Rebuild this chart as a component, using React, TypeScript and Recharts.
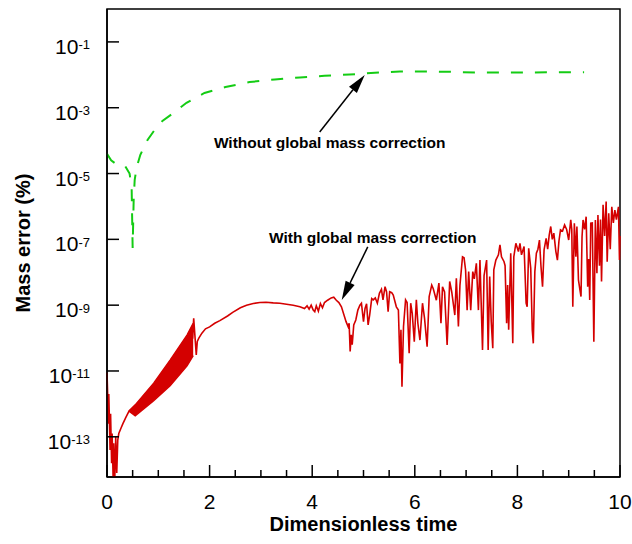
import { Area, ComposedChart, Line, ReferenceArea, ReferenceDot, ReferenceLine, XAxis, YAxis } from "recharts";

// values are [dimensionless time, log10(mass error %)]
const withoutCorrection: [number, number][] = [
  [0, -4.4], [0.08, -4.6], [0.15, -4.68], [0.34, -4.74], [0.44, -5.0], [0.48, -5.4],
  [0.5, -7.26], [0.52, -5.8], [0.54, -5.19], [0.58, -4.8], [0.65, -4.43], [0.79, -3.98],
  [0.93, -3.67], [1.08, -3.4], [1.32, -3.13], [1.55, -2.85], [1.9, -2.55], [2.31, -2.37],
  [2.78, -2.22], [3.27, -2.14], [3.76, -2.08], [4.24, -2.03], [4.73, -1.99], [5.22, -1.94],
  [5.71, -1.9], [6.2, -1.9], [6.7, -1.91], [7.2, -1.93], [7.7, -1.93], [8.2, -1.93],
  [8.7, -1.92], [9.3, -1.92],
];

const withCorrection: [number, number][] = [
  [0, -11.05], [0.03, -12.6], [0.035, -11.7], [0.06, -13.4], [0.07, -12.3], [0.09, -13.8],
  [0.1, -12.9], [0.12, -14.3], [0.13, -13.2], [0.15, -14.4], [0.17, -13.0], [0.19, -14.1],
  [0.21, -13.1], [0.23, -12.9], [0.27, -12.75], [0.31, -12.6], [0.37, -12.4], [0.43, -12.22],
  [0.52, -12.1], [0.9, -11.6], [1.23, -11.05], [1.56, -10.35], [1.67, -10.0],
  [1.69, -9.4], [1.74, -10.51], [1.76, -10.1], [1.79, -10.0], [1.85, -9.85], [1.92, -9.72],
  [2.0, -9.66], [2.1, -9.55], [2.2, -9.47], [2.35, -9.33], [2.45, -9.22], [2.6, -9.08],
  [2.72, -9.0], [2.85, -8.95], [2.98, -8.92], [3.1, -8.91], [3.24, -8.93], [3.37, -8.94],
  [3.5, -8.97], [3.63, -9.0], [3.76, -9.05], [3.85, -9.1], [3.9, -9.02], [3.94, -9.12],
  [3.98, -9.0], [4.02, -9.15], [4.05, -9.2], [4.08, -9.02], [4.12, -9.18], [4.16, -8.95],
  [4.2, -9.08], [4.24, -8.92], [4.3, -8.85], [4.37, -8.78], [4.42, -8.76], [4.47, -8.85],
  [4.52, -8.92], [4.57, -9.05], [4.63, -9.35], [4.66, -9.5], [4.7, -9.65], [4.72, -9.55],
  [4.74, -10.41], [4.76, -9.9], [4.78, -10.2], [4.81, -9.6], [4.85, -9.45], [4.89, -9.15],
  [4.93, -9.0], [4.96, -8.94], [5.0, -9.5], [5.03, -9.1], [5.06, -8.96], [5.09, -9.6],
  [5.12, -9.3], [5.16, -8.8], [5.19, -8.84], [5.23, -8.78], [5.27, -8.94], [5.31, -8.64],
  [5.35, -8.52], [5.38, -8.84], [5.42, -8.44], [5.45, -8.6], [5.48, -9.2], [5.51, -8.59],
  [5.55, -8.62], [5.58, -8.69], [5.64, -9.05], [5.68, -9.15], [5.71, -10.77], [5.73, -9.75],
  [5.75, -11.48], [5.78, -9.65], [5.82, -8.84], [5.85, -8.92], [5.89, -10.46], [5.92, -8.94],
  [5.95, -9.25], [5.99, -10.11], [6.03, -8.84], [6.06, -9.55], [6.1, -10.06], [6.15, -8.94],
  [6.19, -9.4], [6.24, -10.26], [6.28, -8.74], [6.33, -8.39], [6.36, -8.5], [6.42, -8.85],
  [6.47, -8.33], [6.51, -9.55], [6.54, -8.44], [6.58, -8.6], [6.63, -10.21], [6.68, -8.28],
  [6.72, -8.6], [6.78, -9.3], [6.81, -8.18], [6.85, -9.65], [6.88, -8.4], [6.93, -7.53],
  [6.96, -7.56], [6.99, -7.93], [7.02, -9.15], [7.05, -7.98], [7.09, -9.15], [7.13, -7.98],
  [7.16, -8.2], [7.2, -7.73], [7.24, -9.15], [7.27, -7.63], [7.32, -10.36], [7.35, -8.1],
  [7.4, -7.63], [7.43, -10.36], [7.46, -8.13], [7.49, -9.5], [7.52, -10.31], [7.54, -7.93],
  [7.58, -7.63], [7.63, -7.47], [7.66, -7.17], [7.69, -7.53], [7.74, -7.68], [7.76, -7.8],
  [7.79, -9.55], [7.81, -8.39], [7.83, -9.75], [7.87, -7.42], [7.91, -10.16], [7.93, -7.53],
  [7.97, -7.12], [8.02, -7.37], [8.05, -7.12], [8.08, -7.47], [8.13, -7.22], [8.17, -8.94],
  [8.19, -9.05], [8.22, -7.27], [8.26, -7.88], [8.29, -9.75], [8.31, -10.16], [8.34, -7.98],
  [8.37, -7.42], [8.4, -7.3], [8.43, -7.02], [8.46, -7.83], [8.49, -8.44], [8.52, -7.32],
  [8.56, -6.97], [8.59, -7.3], [8.62, -6.87], [8.65, -6.61], [8.68, -7.0], [8.71, -6.81],
  [8.75, -7.37], [8.78, -7.63], [8.81, -7.05], [8.84, -6.71], [8.88, -6.75], [8.92, -6.56],
  [8.96, -6.7], [9.0, -7.02], [9.04, -6.41], [9.06, -6.7], [9.08, -9.05], [9.11, -6.51],
  [9.14, -7.53], [9.16, -6.61], [9.19, -8.23], [9.22, -8.54], [9.24, -8.74], [9.26, -6.92],
  [9.28, -6.41], [9.31, -6.7], [9.34, -6.31], [9.37, -8.44], [9.39, -7.6], [9.41, -8.84],
  [9.43, -6.51], [9.46, -6.5], [9.49, -10.11], [9.52, -6.41], [9.55, -8.03], [9.57, -6.26],
  [9.6, -7.8], [9.62, -6.4], [9.64, -8.28], [9.67, -5.95], [9.7, -6.9], [9.73, -5.85],
  [9.75, -7.68], [9.78, -6.21], [9.81, -7.3], [9.84, -6.01], [9.87, -6.5], [9.9, -6.11],
  [9.93, -6.4], [9.97, -6.01], [9.99, -7.63], [10.0, -6.9],
];

// envelope of the fast oscillation between t=0.45 and t=1.7
const bandT = [0.43, 0.55, 0.91, 1.23, 1.56, 1.68];
const bandLo = [-12.22, -12.36, -11.9, -11.45, -10.84, -10.53];
const bandHi = [-12.22, -12.03, -11.37, -10.67, -9.91, -9.55];

const xTicks = [0, 0.5, 1, 1.5, 2, 2.5, 3, 3.5, 4, 4.5, 5, 5.5, 6, 6.5, 7, 7.5, 8, 8.5, 9, 9.5, 10];
const yTicks = [1e-1, 1e-3, 1e-5, 1e-7, 1e-9, 1e-11, 1e-13];

const FONT = "'Liberation Sans', Arial, Helvetica, sans-serif";
const RED = "#d40000";
const GREEN = "#14cc14";

const redData = withCorrection.map(([t, e]) => ({ t, err: 10 ** e }));
const greenData = withoutCorrection.map(([t, e]) => ({ t, err: 10 ** e }));
const bandData = bandT.map((t, i) => ({ t, range: [10 ** bandLo[i], 10 ** bandHi[i]] }));

function XTick({ x, y, payload }: any) {
  const v = payload.value;
  const major = v % 2 === 0;
  return (
    <g>
      <line x1={x} x2={x} y1={y} y2={y - (major ? 12 : 7)} stroke="#000" strokeWidth={1.5} />
      {major && (
        <text x={x} y={y + 32} textAnchor="middle" fontSize={21} fontFamily={FONT} fill="#000">
          {v}
        </text>
      )}
    </g>
  );
}

function YTick({ x, y, payload }: any) {
  const exp = Math.round(Math.log10(payload.value));
  return (
    <g>
      <line x1={x} x2={x + 12} y1={y} y2={y} stroke="#000" strokeWidth={1.5} />
      <text x={x - 17} y={y + 12} textAnchor="end" fontFamily={FONT} fill="#000">
        <tspan fontSize={21}>10</tspan>
        <tspan fontSize={13} dy={-4.5}>{exp}</tspan>
      </text>
    </g>
  );
}

function Arrow({ x1, y1, x2, y2 }: any) {
  const ang = Math.atan2(y2 - y1, x2 - x1);
  const len = 19;
  const half = 5;
  const bx = x2 - len * Math.cos(ang);
  const by = y2 - len * Math.sin(ang);
  const nx = -Math.sin(ang) * half;
  const ny = Math.cos(ang) * half;
  return (
    <g>
      <line x1={x1} y1={y1} x2={bx} y2={by} stroke="#000" strokeWidth={1.5} />
      <polygon points={`${x2},${y2} ${bx + nx},${by + ny} ${bx - nx},${by - ny}`} fill="#000" />
    </g>
  );
}

function note(text: string) {
  return (p: any) => (
    <text x={p.cx} y={p.cy} textAnchor="middle" fontSize={15.5} fontWeight="bold" fontFamily={FONT} fill="#000">
      {text}
    </text>
  );
}

export default function App() {
  return (
    <div style={{ position: "absolute", left: 0, top: 0, background: "#fff" }}>
      <ComposedChart width={632} height={544} margin={{ top: 9, right: 12, bottom: 0, left: 0 }}>
        <XAxis
          dataKey="t"
          type="number"
          domain={[0, 10]}
          ticks={xTicks}
          interval={0}
          height={67}
          tickSize={0}
          tickMargin={0}
          tickLine={false}
          tick={<XTick />}
          axisLine={{ stroke: "#000", strokeWidth: 1.5 }}
          label={{
            value: "Dimensionless time",
            position: "insideBottom",
            offset: 13,
            style: { fontFamily: FONT, fontSize: 20, fontWeight: "bold", fill: "#000" },
          }}
        />
        <YAxis
          type="number"
          scale="log"
          domain={[6e-15, 1]}
          allowDataOverflow
          ticks={yTicks}
          interval={0}
          width={107}
          tickSize={0}
          tickMargin={0}
          tickLine={false}
          tick={<YTick />}
          axisLine={{ stroke: "#000", strokeWidth: 1.5 }}
          label={{
            value: "Mass error (%)",
            angle: -90,
            position: "insideLeft",
            offset: 23,
            style: { textAnchor: "middle", fontFamily: FONT, fontSize: 20, fontWeight: "bold", fill: "#000" },
          }}
        />
        <ReferenceArea x1={0} x2={10} fill="none" stroke="#000" strokeWidth={1.5} />
        <Area
          data={bandData}
          dataKey="range"
          type="linear"
          stroke={RED}
          strokeWidth={1.5}
          fill={RED}
          fillOpacity={1}
          isAnimationActive={false}
        />
        <Line
          data={redData}
          dataKey="err"
          type="linear"
          stroke={RED}
          strokeWidth={1.6}
          dot={false}
          isAnimationActive={false}
        />
        <Line
          data={greenData}
          dataKey="err"
          type="linear"
          stroke={GREEN}
          strokeWidth={2}
          strokeDasharray="12 12"
          dot={false}
          isAnimationActive={false}
        />
        <ReferenceLine segment={[{ x: 4.146, y: 10 ** -3.736 }, { x: 5.024, y: 10 ** -2.003 }]} shape={<Arrow />} />
        <ReferenceLine segment={[{ x: 5.083, y: 10 ** -7.231 }, { x: 4.576, y: 10 ** -8.842 }]} shape={<Arrow />} />
        <ReferenceDot x={4.34} y={10 ** -4.23} r={0} shape={note("Without global mass correction")} />
        <ReferenceDot x={5.18} y={10 ** -7.1} r={0} shape={note("With global mass correction")} />
      </ComposedChart>
    </div>
  );
}
